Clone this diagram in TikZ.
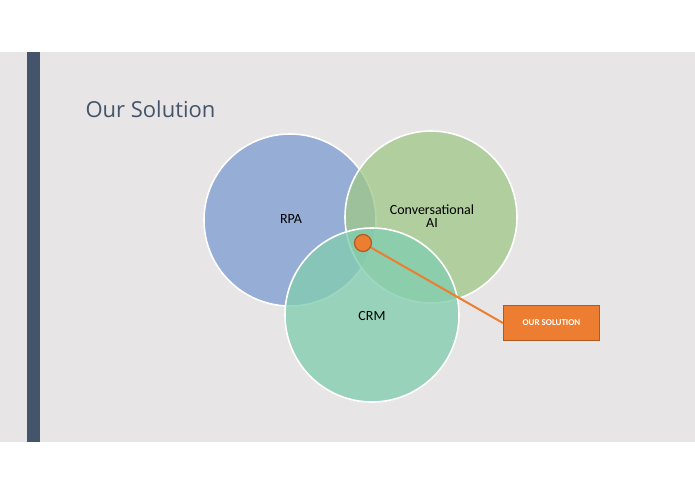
\documentclass[tikz,border=0pt]{standalone}
\usepackage{fontspec}
\setmainfont{Carlito}
\newfontfamily\titlefont{Open Sans}
\begin{document}
\begin{tikzpicture}[x=1pt,y=-1pt,
 venn/.style={draw=white,line width=1.6pt,fill opacity=0.8},
 lbl/.style={font=\fontsize{14}{16}\selectfont,text=black,align=center}]
\definecolor{bg}{HTML}{E7E5E6}
\definecolor{bar}{HTML}{44546A}
\definecolor{ora}{HTML}{ED7D31}
\useasboundingbox (0,0) rectangle (695,494);
\fill[white] (0,0) rectangle (695,494);
\fill[bg] (0,52) rectangle (695,442);
\fill[bar] (27,52) rectangle (40,442);
\node[anchor=west,font=\titlefont\fontsize{22}{26}\selectfont,text=bar] (title) at (82,109) {Our Solution};
\node[venn,circle,minimum size=172pt,fill={rgb,255:red,130;green,160;blue,210}] (rpa) at (290,220) {};
\node[venn,circle,minimum size=172pt,fill={rgb,255:red,160;green,200;blue,135},fill opacity=0.75] (ai) at (431,217) {};
\node[venn,circle,minimum size=174pt,fill={rgb,255:red,130;green,205;blue,175},fill opacity=0.78] (crm) at (372,315) {};
\node[lbl] (t1) at (291,219) {RPA};
\node[lbl] (t2) at (432,216) {Conversational\\[-3pt]AI};
\node[lbl] (t3) at (372,316) {CRM};
\node[draw={rgb,255:red,174;green,90;blue,33},line width=1.2pt,fill=ora,minimum width=96pt,minimum height=35pt,text=white,font=\bfseries\fontsize{9}{10}\selectfont] (box) at (551.5,323) {OUR SOLUTION};
\node[circle,draw={rgb,255:red,174;green,90;blue,33},line width=1.2pt,fill=ora,minimum size=17pt,inner sep=0pt] (sol) at (363,243) {};
\draw[ora,line width=2pt] (sol) -- (box.west);
\end{tikzpicture}
\end{document}
